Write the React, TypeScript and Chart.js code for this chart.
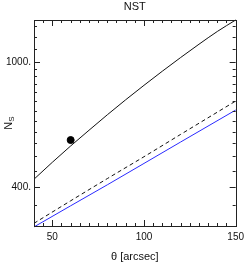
import React, { useEffect, useRef } from "react";
import { Chart, registerables } from "chart.js";

Chart.register(...registerables);

const title = "NST";
const xLabel = "θ [arcsec]";
const thetaSolid = [40, 50, 60, 70, 80, 90, 100, 110, 120, 130, 140, 150];
const solidValues = [423, 479, 540, 606, 679, 758, 843, 935, 1034, 1140, 1252, 1362];
const thetaLower = [40, 60, 80, 100, 120, 150];
const dashedValues = [306, 361, 425, 499, 588, 751];
const blueValues = [298, 348, 406, 475, 556, 703];
const pointTheta = [60];
const pointValues = [564];
const xMajorTicks = [50, 100, 150];
const xMinorTicks = [45, 55, 60, 65, 70, 75, 80, 85, 90, 95, 105, 110, 115, 120, 125, 130, 135, 140, 145];
const yMajorTicks = [400, 1000];
const yMinorTicks = [350, 450, 500, 550, 600, 650, 700, 750, 800, 850, 900, 950, 1100, 1200, 1300];

const FONT = "'Liberation Sans', Arial, sans-serif";

const framePlugin = {
  id: "frameTicks",
  afterDatasetsDraw(chart: any) {
    const { ctx, chartArea, scales } = chart;
    const { left, right, top, bottom } = chartArea;
    ctx.save();
    ctx.strokeStyle = "#222";
    ctx.lineWidth = 1;
    ctx.strokeRect(Math.round(left) + 0.5, Math.round(top) + 0.5, Math.round(right - left), Math.round(bottom - top));
    const xs = scales.x;
    const ys = scales.y;
    ctx.beginPath();
    const drawX = (v: number, len: number) => {
      const px = Math.round(xs.getPixelForValue(v)) + 0.5;
      ctx.moveTo(px, bottom);
      ctx.lineTo(px, bottom - len);
      ctx.moveTo(px, top);
      ctx.lineTo(px, top + len);
    };
    const drawY = (v: number, len: number) => {
      const py = Math.round(ys.getPixelForValue(v)) + 0.5;
      ctx.moveTo(left, py);
      ctx.lineTo(left + len, py);
      ctx.moveTo(right, py);
      ctx.lineTo(right - len, py);
    };
    xMajorTicks.forEach((v) => drawX(v, 6));
    xMinorTicks.forEach((v) => drawX(v, 3));
    yMajorTicks.forEach((v) => drawY(v, 6));
    yMinorTicks.forEach((v) => drawY(v, 3));
    ctx.stroke();

    ctx.fillStyle = "#111";
    ctx.textAlign = "center";
    ctx.textBaseline = "middle";
    ctx.font = `11px ${FONT}`;
    ctx.fillText(title, (left + right) / 2, 7);
    ctx.font = `11px ${FONT}`;
    ctx.fillText(xLabel, (left + right) / 2, 257);

    // y label N with subscript S
    ctx.translate(8, (top + bottom) / 2);
    ctx.rotate(-Math.PI / 2);
    ctx.font = `11px ${FONT}`;
    const wN = ctx.measureText("N").width;
    ctx.font = `8px ${FONT}`;
    const wS = ctx.measureText("S").width;
    const start = -(wN + wS) / 2;
    ctx.textAlign = "left";
    ctx.textBaseline = "alphabetic";
    ctx.font = `11px ${FONT}`;
    ctx.fillText("N", start, 4);
    ctx.font = `8px ${FONT}`;
    ctx.fillText("S", start + wN, 6);
    ctx.restore();
  },
};

export default function App() {
  const ref = useRef<HTMLCanvasElement>(null);
  useEffect(() => {
    if (!ref.current) return;
    const toPts = (xs: number[], ys: number[]) => xs.map((x, i) => ({ x, y: ys[i] }));
    const chart = new Chart(ref.current, {
      type: "line",
      data: {
        datasets: [
          {
            data: toPts(thetaSolid, solidValues),
            borderColor: "#111",
            borderWidth: 1,
            pointRadius: 0,
            cubicInterpolationMode: "monotone",
          },
          {
            data: toPts(thetaLower, dashedValues),
            borderColor: "#111",
            borderWidth: 1,
            borderDash: [4, 3],
            pointRadius: 0,
            cubicInterpolationMode: "monotone",
          },
          {
            data: toPts(thetaLower, blueValues),
            borderColor: "#2a2aff",
            borderWidth: 1,
            pointRadius: 0,
            cubicInterpolationMode: "monotone",
          },
          {
            data: toPts(pointTheta, pointValues),
            showLine: false,
            pointRadius: 3.5,
            pointBackgroundColor: "#000",
            pointBorderColor: "#000",
          },
        ],
      },
      options: {
        animation: false,
        responsive: false,
        clip: false as any,
        layout: { padding: { top: 20, right: 8, left: 0, bottom: 0 } },
        plugins: { legend: { display: false }, tooltip: { enabled: false }, title: { display: false } },
        scales: {
          x: {
            type: "linear",
            min: 40,
            max: 150,
            grid: { display: false, drawTicks: false },
            border: { display: false },
            afterBuildTicks: (s: any) => {
              s.ticks = xMajorTicks.map((v) => ({ value: v }));
            },
            afterFit: (s: any) => {
              s.height = 38;
            },
            ticks: {
              padding: 5,
              maxRotation: 0,
              autoSkip: false,
              color: "#111",
              font: { family: FONT, size: 10 },
              callback: (v: any) => String(v),
            },
          },
          y: {
            type: "logarithmic",
            min: 300,
            max: 1362,
            grid: { display: false, drawTicks: false },
            border: { display: false },
            afterBuildTicks: (s: any) => {
              s.ticks = yMajorTicks.map((v) => ({ value: v }));
            },
            afterFit: (s: any) => {
              s.width = 34;
            },
            ticks: {
              padding: 3,
              autoSkip: false,
              color: "#111",
              font: { family: FONT, size: 10 },
              callback: (v: any) => `${v}.`,
            },
          },
        },
      },
      plugins: [framePlugin],
    });
    return () => chart.destroy();
  }, []);
  return (
    <div style={{ position: "fixed", left: 0, top: 0, width: 249, height: 264, background: "#fff" }}>
      <canvas ref={ref} width={249} height={264} style={{ width: 249, height: 264 }} />
    </div>
  );
}
